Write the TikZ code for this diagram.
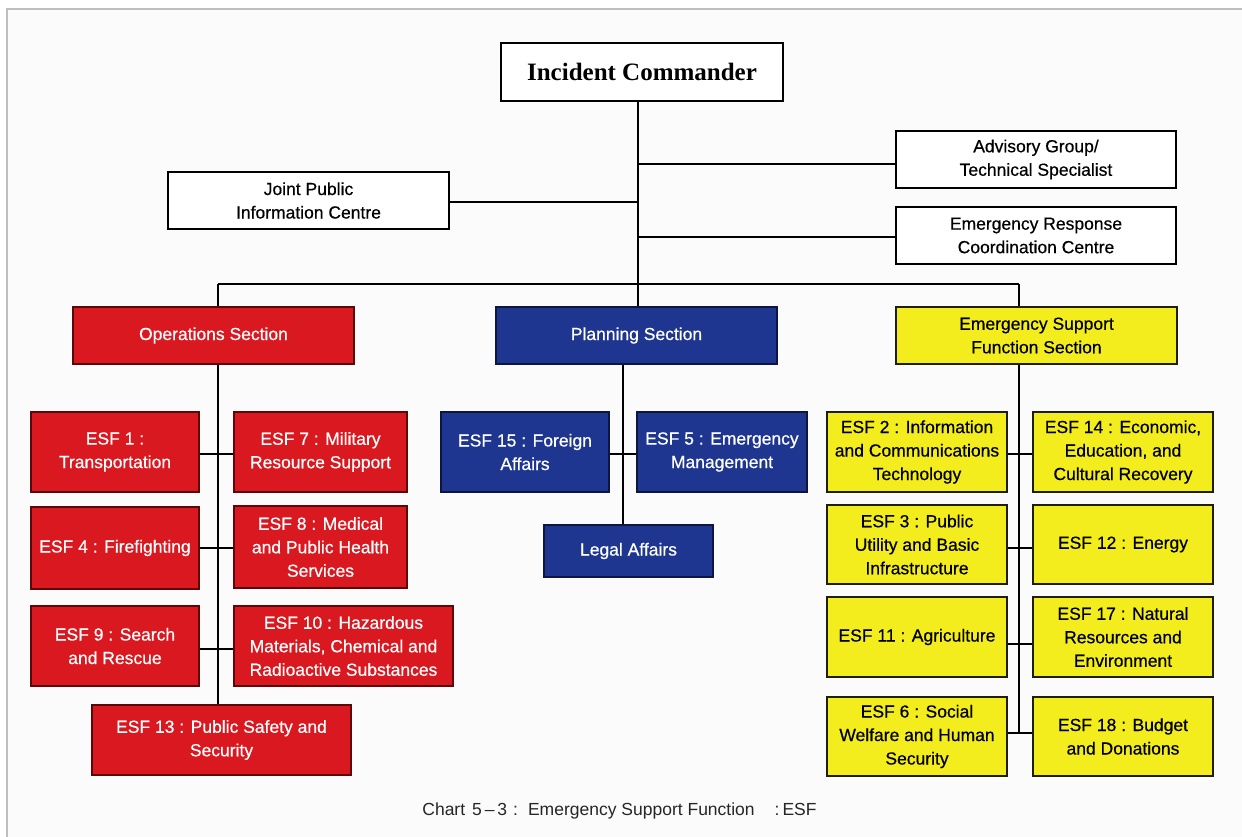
\documentclass[tikz,border=0pt]{standalone}
\usepackage{fontspec}
\setmainfont{Liberation Sans}
\newfontfamily\boxfont{Liberation Sans}[FakeBold=0.5]
\newfontfamily\timesfont{Liberation Serif}
\definecolor{redfill}{RGB}{218,24,32}
\definecolor{redline}{RGB}{90,8,10}
\definecolor{bluefill}{RGB}{30,54,144}
\definecolor{blueline}{RGB}{12,22,62}
\definecolor{yelfill}{RGB}{244,237,30}
\definecolor{yelline}{RGB}{30,30,10}
\definecolor{framegray}{RGB}{190,190,190}
\definecolor{bgpaper}{RGB}{251,251,251}
\tikzset{
  base/.style={rectangle, align=center, inner sep=2pt, font=\boxfont\fontsize{17.5}{23.5}\selectfont},
  whitebox/.style={base, draw=black, fill=white, line width=1.6pt, text=black},
  redbox/.style={base, draw=redline, fill=redfill, line width=2.2pt, text=white},
  bluebox/.style={base, draw=blueline, fill=bluefill, line width=2.2pt, text=white},
  yelbox/.style={base, draw=yelline, fill=yelfill, line width=2.2pt, text=black},
  conn/.style={draw=black, line width=1.5pt},
  captxt/.style={font=\fontsize{17.5}{20}\selectfont, text=black!85}
}
\begin{document}
\begin{tikzpicture}[x=1pt,y=-1pt]
\useasboundingbox (0,0) rectangle (1242,837);
\fill[white] (0,0) rectangle (1242,837);
\fill[bgpaper] (7,9) rectangle (1242,837);
\draw[framegray, line width=2pt] (7,837) -- (7,9) -- (1242,9);

% top level
\node[whitebox, minimum width=282pt, minimum height=58pt, font=\timesfont\bfseries\fontsize{25}{28}\selectfont] (ic) at (642,72) {Incident Commander};
\node[whitebox, minimum width=280pt, minimum height=57pt] (adv) at (1036,159.5) {Advisory Group/\\Technical Specialist};
\node[whitebox, minimum width=280pt, minimum height=57pt] (erc) at (1036,235.5) {Emergency Response\\Coordination Centre};
\node[whitebox, minimum width=281pt, minimum height=57pt] (jpic) at (308.5,200.5) {Joint Public\\Information Centre};

% sections
\node[redbox, minimum width=281pt, minimum height=57pt] (ops) at (213.5,335.5) {Operations Section};
\node[bluebox, minimum width=281pt, minimum height=57pt] (plan) at (636.5,335.5) {Planning Section};
\node[yelbox, minimum width=281pt, minimum height=57pt] (esfs) at (1036.5,335.5) {Emergency Support\\Function Section};

% operations
\node[redbox, minimum width=168pt, minimum height=80pt] (esf1) at (115,452) {ESF 1 :\\Transportation};
\node[redbox, minimum width=173pt, minimum height=80pt] (esf7) at (320.5,452) {ESF 7 : Military\\Resource Support};
\node[redbox, minimum width=168pt, minimum height=82pt] (esf4) at (115,548) {ESF 4 : Firefighting};
\node[redbox, minimum width=173pt, minimum height=82pt] (esf8) at (320.5,547) {ESF 8 : Medical\\and Public Health\\Services};
\node[redbox, minimum width=168pt, minimum height=80pt] (esf9) at (115,646) {ESF 9 : Search\\and Rescue};
\node[redbox, minimum width=219pt, minimum height=80pt] (esf10) at (343.5,646) {ESF 10 : Hazardous\\Materials, Chemical and\\Radioactive Substances};
\node[redbox, minimum width=259pt, minimum height=70pt] (esf13) at (221.5,740) {ESF 13 : Public Safety and\\Security};

% planning
\node[bluebox, minimum width=168pt, minimum height=80pt] (esf15) at (525,452) {ESF 15 : Foreign\\Affairs};
\node[bluebox, minimum width=170pt, minimum height=80pt] (esf5) at (722,452) {ESF 5 : Emergency\\Management};
\node[bluebox, minimum width=169pt, minimum height=52pt] (legal) at (628.5,551) {Legal Affairs};

% emergency support functions
\node[yelbox, minimum width=180pt, minimum height=80pt] (esf2) at (917,452) {ESF 2 : Information\\and Communications\\Technology};
\node[yelbox, minimum width=180pt, minimum height=80pt] (esf14) at (1123,452) {ESF 14 : Economic,\\Education, and\\Cultural Recovery};
\node[yelbox, minimum width=180pt, minimum height=79pt] (esf3) at (917,544.5) {ESF 3 : Public\\Utility and Basic\\Infrastructure};
\node[yelbox, minimum width=180pt, minimum height=79pt] (esf12) at (1123,544.5) {ESF 12 : Energy};
\node[yelbox, minimum width=180pt, minimum height=80pt] (esf11) at (917,637) {ESF 11 : Agriculture};
\node[yelbox, minimum width=180pt, minimum height=80pt] (esf17) at (1123,637) {ESF 17 : Natural\\Resources and\\Environment};
\node[yelbox, minimum width=180pt, minimum height=79pt] (esf6) at (917,736.5) {ESF 6 : Social\\Welfare and Human\\Security};
\node[yelbox, minimum width=180pt, minimum height=79pt] (esf18) at (1123,736.5) {ESF 18 : Budget\\and Donations};

\node[captxt] (cap) at (619.5,811) {Chart\hspace{7pt}5\,–\,3\hspace{6pt}:\hspace{10pt}Emergency Support Function\hspace{20pt}:\hspace{3pt}ESF};

% helper coordinates
\coordinate (busL) at (218,284);
\coordinate (busR) at (1019,284);
\coordinate (trunk) at (638,284);
\coordinate (planX) at (623,364);
\coordinate (yAdv) at (0,164);
\coordinate (yErc) at (0,237);
\coordinate (yJp) at (0,202);
\coordinate (r1) at (0,454);
\coordinate (r2) at (0,548);
\coordinate (r3) at (0,649);
\coordinate (y2) at (0,548);
\coordinate (y3) at (0,644);
\coordinate (y4) at (0,733);

% connectors: top
\draw[conn] (ic.south -| trunk) -- (trunk);
\draw[conn] (busL) -- (busR);
\draw[conn] (adv.west |- yAdv) -- (trunk |- yAdv);
\draw[conn] (erc.west |- yErc) -- (trunk |- yErc);
\draw[conn] (jpic.east |- yJp) -- (trunk |- yJp);
\draw[conn] (busL) -- (busL |- ops.north);
\draw[conn] (trunk) -- (trunk |- plan.north);
\draw[conn] (busR) -- (busR |- esfs.north);

% operations column
\draw[conn] (busL |- ops.south) -- (busL |- esf13.north);
\draw[conn] (esf1.east |- r1) -- (esf7.west |- r1);
\draw[conn] (esf4.east |- r2) -- (esf8.west |- r2);
\draw[conn] (esf9.east |- r3) -- (esf10.west |- r3);

% planning column
\draw[conn] (planX |- plan.south) -- (planX |- legal.north);
\draw[conn] (esf15.east |- r1) -- (esf5.west |- r1);

% ESF column
\draw[conn] (busR |- esfs.south) -- (busR |- y4);
\draw[conn] (esf2.east |- r1) -- (esf14.west |- r1);
\draw[conn] (esf3.east |- y2) -- (esf12.west |- y2);
\draw[conn] (esf11.east |- y3) -- (esf17.west |- y3);
\draw[conn] (esf6.east |- y4) -- (esf18.west |- y4);
\end{tikzpicture}
\end{document}
